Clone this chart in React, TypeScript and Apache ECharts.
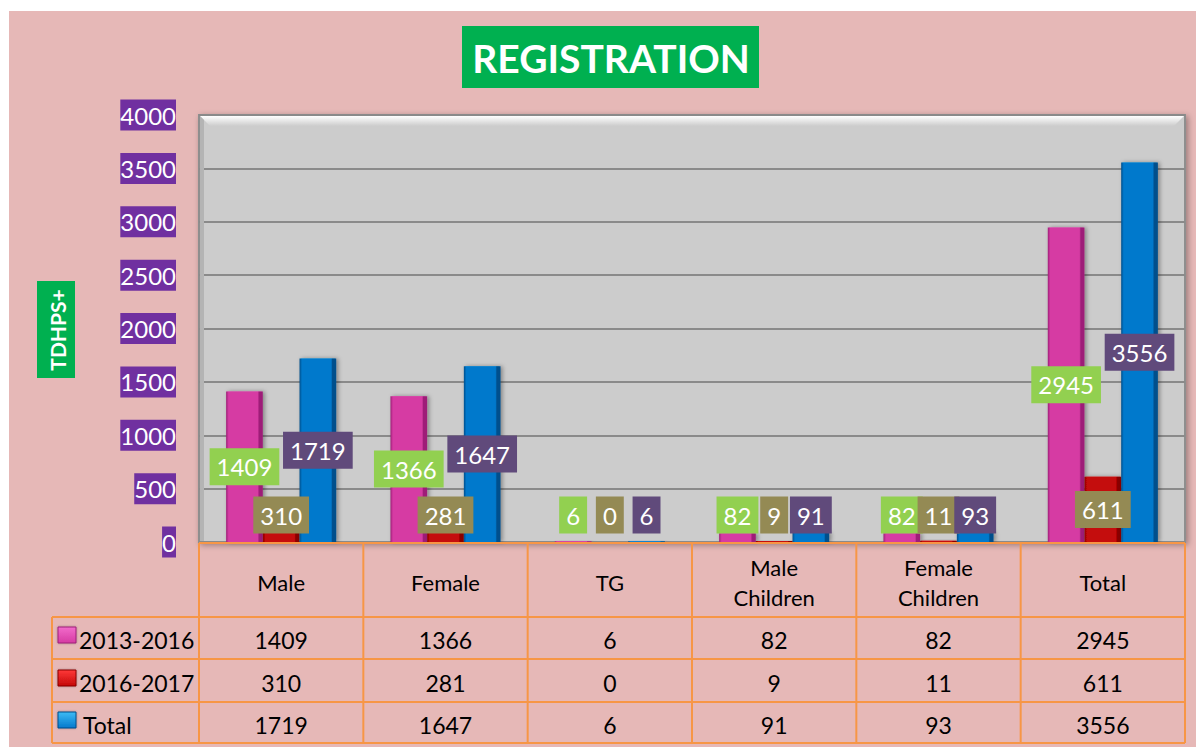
import React, { useEffect, useRef } from "react";
import * as echarts from "echarts";

// ---------- data ----------
const categories = ["Male", "Female", "TG", "Male\nChildren", "Female\nChildren", "Total"];
const seriesNames = ["2013-2016", "2016-2017", "Total"];
const values20132016 = [1409, 1366, 6, 82, 82, 2945];
const values20162017 = [310, 281, 0, 9, 11, 611];
const valuesTotal = [1719, 1647, 6, 91, 93, 3556];
const yMin = 0;
const yMax = 4000;
const yInterval = 500;
const titleText = "REGISTRATION";
const yAxisTitle = "TDHPS+";

const seriesValues = [values20132016, values20162017, valuesTotal];

// ---------- style / layout ----------
const FONT = 'Lato, "Open Sans", sans-serif';
const OX = 9;
const OY = 11;
const PAGE_W = 1196;
const PAGE_H = 747;
const PLOT_L = 199;
const PLOT_T = 115;
const PLOT_R = 1185;
const PLOT_B = 542;
const TABLE_L = 52;
const HEADER_T = 543;
const HEADER_B = 617;
const ROW_BOTTOMS = [659, 702, 743];
const ROW_TEXT_Y = [640, 683, 725];
const ORANGE = "#F79646";
const BAR_CAT_GAP = 0.33;
const LABEL_MIN_LIFT = 27;

const barColors = [
  { dark: "#9E1F78", main: "#D63BA3", light: "#F26BCB" },
  { dark: "#8A0000", main: "#C40808", light: "#FF3A3A" },
  { dark: "#004F8C", main: "#0479CC", light: "#3DBBF5" },
];
const labelBg = ["#92D050", "#948A54", "#604A7B"];

const cx = (x: number) => x - OX;
const cy = (y: number) => y - OY;

function barGradient(c: { dark: string; main: string; light: string }) {
  return new echarts.graphic.LinearGradient(0, 0, 1, 0, [
    { offset: 0, color: c.dark },
    { offset: 0.07, color: c.main },
    { offset: 0.5, color: c.main },
    { offset: 0.86, color: c.main },
    { offset: 0.9, color: c.dark },
    { offset: 1, color: c.dark },
  ]);
}

function buildOption(offsets: number[][] | null) {
  const bars = seriesValues.map((vals, s) => ({
    type: "bar",
    name: seriesNames[s],
    z: 2,
    barGap: "0%",
    barCategoryGap: BAR_CAT_GAP * 100 + "%",
    itemStyle: {
      color: barGradient(barColors[s]),
      shadowColor: "rgba(0,0,0,0.35)",
      shadowBlur: 4,
      shadowOffsetX: 2,
    },
    label: {
      show: true,
      position: "inside",
      formatter: "{c}",
      color: "#FFFFFF",
      fontSize: 24,
      fontFamily: FONT,
      backgroundColor: labelBg[s],
      padding: [7, 7, 6, 7],
    },
    data: vals.map((v, i) => ({
      value: v,
      label: { offset: [0, offsets ? -offsets[s][i] : 0] },
    })),
  }));

  const caps = seriesValues.map((vals, s) => ({
    type: "custom",
    z: 2,
    silent: true,
    data: vals.map((v, i) => [i, v]),
    encode: { x: 0, y: 1 },
    renderItem: (params: any, api: any) => {
      const i = api.value(0);
      const v = api.value(1);
      if (!v) return null;
      const base = api.coord([i, 0]);
      const top = api.coord([i, v]);
      const catW = api.size([1, 0])[0];
      const bw = (catW * (1 - BAR_CAT_GAP)) / 3;
      const c = base[0] + (s - 1) * bw;
      const x0 = c - bw / 2;
      const x1 = c + bw / 2;
      const h = Math.min(9, base[1] - top[1]);
      const ins = Math.min(7, h);
      return {
        type: "polygon",
        shape: {
          points: [
            [x0 + 1, top[1]],
            [x1 - 1, top[1]],
            [x1 - ins, top[1] + h],
            [x0 + ins, top[1] + h],
          ],
        },
        style: {
          fill: new echarts.graphic.LinearGradient(0, 0, 0, 1, [
            { offset: 0, color: barColors[s].light },
            { offset: 1, color: barColors[s].main },
          ]),
        },
      };
    },
  }));

  const colW = (PLOT_R - PLOT_L) / categories.length;
  const g: any[] = [];
  // plot bevels
  g.push({
    type: "polygon",
    z: 1,
    silent: true,
    shape: {
      points: [
        [cx(PLOT_L + 1), cy(PLOT_T + 1)],
        [cx(PLOT_R - 1), cy(PLOT_T + 1)],
        [cx(PLOT_R - 11), cy(PLOT_T + 11)],
        [cx(PLOT_L + 11), cy(PLOT_T + 11)],
      ],
    },
    style: {
      fill: new echarts.graphic.LinearGradient(0, 0, 0, 1, [
        { offset: 0, color: "#FFFFFF" },
        { offset: 1, color: "#CCCCCC" },
      ]),
    },
  });
  g.push({
    type: "polygon",
    z: 1,
    silent: true,
    shape: {
      points: [
        [cx(PLOT_L + 1), cy(PLOT_T + 1)],
        [cx(PLOT_L + 5), cy(PLOT_T + 5)],
        [cx(PLOT_L + 5), cy(PLOT_B - 1)],
        [cx(PLOT_L + 1), cy(PLOT_B - 1)],
      ],
    },
    style: { fill: "#B4B4B4" },
  });
  // title
  g.push({
    type: "rect",
    shape: { x: cx(462), y: cy(26), width: 297, height: 62 },
    style: { fill: "#00B050" },
  });
  g.push({
    type: "text",
    x: cx(611),
    y: cy(58),
    style: {
      text: titleText,
      fill: "#FFFFFF",
      fontSize: 39,
      fontWeight: "bold",
      fontFamily: FONT,
      align: "center",
      verticalAlign: "middle",
    },
  });
  // y-axis title
  g.push({
    type: "rect",
    shape: { x: cx(37), y: cy(281), width: 38, height: 97 },
    style: { fill: "#00B050" },
  });
  g.push({
    type: "text",
    x: cx(57),
    y: cy(330),
    rotation: Math.PI / 2,
    style: {
      text: yAxisTitle,
      fill: "#FFFFFF",
      fontSize: 21,
      fontWeight: "bold",
      fontFamily: FONT,
      align: "center",
      verticalAlign: "middle",
    },
  });
  const line = (x1: number, y1: number, x2: number, y2: number) => ({
    type: "line",
    z: 5,
    silent: true,
    shape: { x1: cx(x1), y1: cy(y1), x2: cx(x2), y2: cy(y2) },
    style: { stroke: ORANGE, lineWidth: 2 },
  });
  g.push(line(PLOT_L, HEADER_T, PLOT_R, HEADER_T));
  for (let k = 0; k <= categories.length; k++) {
    const x = PLOT_L + k * colW;
    g.push(line(x, HEADER_T, x, ROW_BOTTOMS[ROW_BOTTOMS.length - 1]));
  }
  g.push(line(TABLE_L, HEADER_B, PLOT_R, HEADER_B));
  ROW_BOTTOMS.forEach((y) => g.push(line(TABLE_L, y, PLOT_R, y)));
  g.push(line(TABLE_L, HEADER_B, TABLE_L, ROW_BOTTOMS[ROW_BOTTOMS.length - 1]));

  seriesNames.forEach((name, s) => {
    const yc = ROW_TEXT_Y[s];
    g.push({
      type: "rect",
      z: 5,
      shape: { x: cx(58), y: cy(yc - 13), width: 18, height: 16 },
      style: {
        fill: new echarts.graphic.LinearGradient(0, 0, 0, 1, [
          { offset: 0, color: barColors[s].light },
          { offset: 1, color: barColors[s].main },
        ]),
        stroke: barColors[s].dark,
        lineWidth: 1,
        shadowColor: "rgba(0,0,0,0.3)",
        shadowBlur: 2,
      },
    });
    g.push({
      type: "text",
      z: 5,
      x: cx(s === 2 ? 83 : 79),
      y: cy(yc),
      style: {
        text: name,
        fill: "#000000",
        fontSize: 23,
        fontFamily: FONT,
        align: "left",
        verticalAlign: "middle",
      },
    });
    seriesValues[s].forEach((v, i) => {
      g.push({
        type: "text",
        z: 5,
        x: cx(PLOT_L + (i + 0.5) * colW),
        y: cy(yc),
        style: {
          text: String(v),
          fill: "#000000",
          fontSize: 23,
          fontFamily: FONT,
          align: "center",
          verticalAlign: "middle",
        },
      });
    });
  });

  return {
    animation: false,
    backgroundColor: "#E6B8B7",
    grid: {
      left: cx(PLOT_L),
      top: cy(PLOT_T),
      width: PLOT_R - PLOT_L,
      height: PLOT_B - PLOT_T,
      show: true,
      backgroundColor: "#CCCCCC",
      borderColor: "#8E8E8E",
      borderWidth: 2,
      shadowColor: "rgba(0,0,0,0.35)",
      shadowBlur: 6,
      shadowOffsetX: 2,
      shadowOffsetY: 2,
    },
    xAxis: {
      type: "category",
      data: categories,
      axisLine: { show: false },
      axisTick: { show: false },
      axisLabel: {
        interval: 0,
        color: "#000000",
        fontSize: 22,
        lineHeight: 30,
        fontFamily: FONT,
        verticalAlign: "middle",
        margin: 40,
      },
    },
    yAxis: {
      type: "value",
      min: yMin,
      max: yMax,
      interval: yInterval,
      axisLine: { show: false },
      axisTick: { show: false },
      splitLine: { lineStyle: { color: "#8A8A8A", width: 2 } },
      axisLabel: {
        formatter: (v: number) => String(v),
        color: "#FFFFFF",
        fontSize: 24,
        fontFamily: FONT,
        backgroundColor: "#7030A0",
        padding: [4, 0, 3, 0],
        margin: 23,
      },
    },
    graphic: g,
    series: [...bars, ...caps],
  };
}

export default function App() {
  const ref = useRef<HTMLDivElement>(null);
  useEffect(() => {
    if (!ref.current) return;
    const chart = echarts.init(ref.current, null, { renderer: "svg" });
    chart.setOption(buildOption(null) as any);
    const offsets = seriesValues.map((vals) =>
      vals.map((v, i) => {
        const zero = chart.convertToPixel({ gridIndex: 0 } as any, [i, 0]) as number[];
        const top = chart.convertToPixel({ gridIndex: 0 } as any, [i, v]) as number[];
        const half = (zero[1] - top[1]) / 2;
        return Math.max(0, LABEL_MIN_LIFT - half);
      })
    );
    chart.setOption(buildOption(offsets) as any);
    return () => chart.dispose();
  }, []);
  return (
    <div
      style={{
        position: "fixed",
        left: 0,
        top: 0,
        width: PAGE_W,
        height: PAGE_H,
        background: "#FFFFFF",
      }}
    >
      <div
        ref={ref}
        style={{
          position: "absolute",
          left: OX,
          top: OY,
          width: PAGE_W - OX,
          height: PAGE_H - OY,
        }}
      />
    </div>
  );
}
